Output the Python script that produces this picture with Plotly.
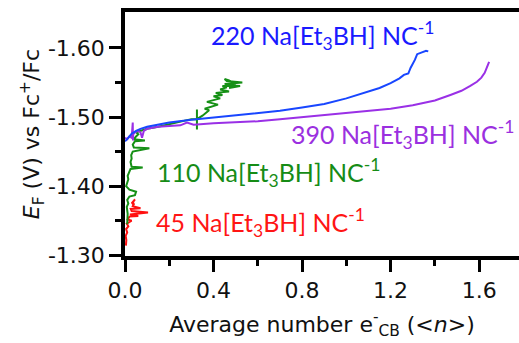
import plotly.graph_objects as go

# Fermi level vs average number of conduction-band electrons for four Na[Et3BH] doses

x_45 = [0.004, 0.006, 0.003, 0.010, 0.005, 0.015, 0.008, 0.030, 0.012, 0.020, 0.060, 0.022,
        0.104, 0.030, 0.026, 0.070, 0.035, 0.040, 0.036, 0.045, 0.032, 0.040]
y_45 = [-1.314, -1.322, -1.328, -1.333, -1.338, -1.342, -1.346, -1.350, -1.352, -1.356, -1.357, -1.359,
        -1.362, -1.364, -1.367, -1.368, -1.371, -1.374, -1.377, -1.381, -1.376, -1.372]

x_110 = [0.010, 0.012, 0.008, 0.015, 0.010, 0.020, 0.045, 0.050, 0.020, 0.005, 0.010, 0.015,
         0.012, 0.020, 0.025, 0.080, 0.030, 0.025, 0.030, 0.028, 0.035, 0.110, 0.040, 0.035,
         0.045, 0.090, 0.040, 0.050, 0.060, 0.050, 0.070, 0.100, 0.150, 0.200, 0.250, 0.300,
         0.325, 0.325, 0.325, 0.325, 0.350, 0.380, 0.360, 0.420, 0.370, 0.430, 0.400, 0.440,
         0.410, 0.470, 0.430, 0.460, 0.440, 0.500, 0.450, 0.530, 0.460, 0.450, 0.470, 0.500,
         0.465, 0.520, 0.470]
y_110 = [-1.345, -1.360, -1.370, -1.375, -1.380, -1.385, -1.387, -1.392, -1.395, -1.400, -1.405, -1.410,
         -1.415, -1.420, -1.425, -1.427, -1.428, -1.435, -1.440, -1.445, -1.450, -1.455, -1.456, -1.460,
         -1.465, -1.466, -1.468, -1.472, -1.475, -1.478, -1.480, -1.483, -1.486, -1.490, -1.494, -1.497,
         -1.497, -1.511, -1.482, -1.497, -1.502, -1.510, -1.512, -1.518, -1.522, -1.527, -1.530, -1.532,
         -1.535, -1.537, -1.540, -1.543, -1.545, -1.545, -1.548, -1.550, -1.552, -1.555, -1.553, -1.548,
         -1.546, -1.545, -1.542]

x_220 = [0.000, 0.005, 0.010, 0.020, 0.030, 0.050, 0.070, 0.100, 0.150, 0.200, 0.300, 0.400,
         0.500, 0.600, 0.700, 0.800, 0.900, 1.000, 1.050, 1.100, 1.150, 1.200, 1.240, 1.260,
         1.280, 1.290, 1.300, 1.310, 1.320, 1.340, 1.360, 1.370]
y_220 = [-1.465, -1.466, -1.468, -1.472, -1.476, -1.480, -1.483, -1.486, -1.489, -1.492, -1.496, -1.499,
         -1.502, -1.505, -1.509, -1.514, -1.519, -1.527, -1.532, -1.537, -1.542, -1.549, -1.556, -1.561,
         -1.563, -1.571, -1.576, -1.583, -1.591, -1.594, -1.596, -1.595]

x_390 = [0.000, 0.010, 0.020, 0.030, 0.035, 0.036, 0.037, 0.045, 0.060, 0.070, 0.077, 0.085,
         0.100, 0.150, 0.200, 0.250, 0.280, 0.310, 0.400, 0.500, 0.600, 0.700, 0.800, 0.900,
         1.000, 1.100, 1.200, 1.300, 1.400, 1.470, 1.520, 1.560, 1.590, 1.610, 1.625, 1.635,
         1.640, 1.645]
y_390 = [-1.470, -1.468, -1.472, -1.470, -1.492, -1.466, -1.475, -1.478, -1.480, -1.478, -1.470, -1.480,
         -1.483, -1.486, -1.487, -1.488, -1.492, -1.489, -1.491, -1.492, -1.494, -1.497, -1.500, -1.502,
         -1.505, -1.508, -1.512, -1.517, -1.524, -1.532, -1.538, -1.545, -1.551, -1.557, -1.564, -1.572,
         -1.578, -1.580]

y_tick_vals = [-1.30, -1.40, -1.50, -1.60]
y_tick_text = ["-1.30", "-1.40", "-1.50", "-1.60"]
y_minor_vals = [-1.35, -1.45, -1.55]
x_tick_vals = [0.0, 0.4, 0.8, 1.2, 1.6]
x_tick_text = ["0.0", "0.4", "0.8", "1.2", "1.6"]

series = [
    (x_45, y_45, "#ff1010"),
    (x_110, y_110, "#159015"),
    (x_390, y_390, "#9a30e6"),
    (x_220, y_220, "#1846ff"),
]

fig = go.Figure()
for xs, ys, col in series:
    fig.add_trace(go.Scatter(x=xs, y=ys, mode="lines",
                             line=dict(color=col, width=2), showlegend=False))

label_font = "Lato, Carlito, Noto Sans, sans-serif"
labels = [
    ("220 Na[Et<sub>3</sub>BH] NC<sup>-1</sup>", 209, 35, "#1a1aff"),
    ("390 Na[Et<sub>3</sub>BH] NC<sup>-1</sup>", 289, 134, "#9b30e0"),
    ("110 Na[Et<sub>3</sub>BH] NC<sup>-1</sup>", 155, 172, "#168c16"),
    ("45 Na[Et<sub>3</sub>BH] NC<sup>-1</sup>", 154, 222, "#ff1515"),
]
for txt, px, py, col in labels:
    fig.add_annotation(text=txt, xref="paper", yref="paper",
                       x=(px - 125) / 394, y=(256 - py) / 244,
                       xanchor="left", yanchor="middle", showarrow=False,
                       font=dict(family=label_font, size=25, color=col))

axis_font = dict(family="DejaVu Sans, sans-serif", size=22, color="#111111")

fig.update_xaxes(range=[0, 1.78], tickvals=x_tick_vals, ticktext=x_tick_text,
                 ticks="outside", ticklen=12, tickwidth=3, tickcolor="black",
                 minor=dict(dtick=0.2, tick0=0, ticks="outside", ticklen=6,
                            tickwidth=3, tickcolor="black"),
                 showline=True, linewidth=3.5, linecolor="black", mirror=True,
                 showgrid=False, zeroline=False, tickfont=axis_font,
                 title=dict(text="Average number e<sup>-</sup><sub>CB</sub> (&lt;<i>n</i>&gt;)",
                            font=axis_font, standoff=15))
fig.update_yaxes(range=[-1.299, -1.652], tickvals=y_tick_vals, ticktext=y_tick_text,
                 ticks="outside", ticklen=12, tickwidth=3, tickcolor="black",
                 minor=dict(tickvals=y_minor_vals, ticks="outside", ticklen=6,
                            tickwidth=3, tickcolor="black"),
                 showline=True, linewidth=3.5, linecolor="black",
                 showgrid=False, zeroline=False, tickfont=axis_font,
                 title=dict(text="<i>E</i><sub>F</sub> (V) vs Fc<sup>+</sup>/Fc",
                            font=axis_font, standoff=3))

fig.update_layout(width=519, height=343, margin=dict(l=125, r=0, t=12, b=87),
                  paper_bgcolor="white", plot_bgcolor="white")

fig.write_html("out.html")
